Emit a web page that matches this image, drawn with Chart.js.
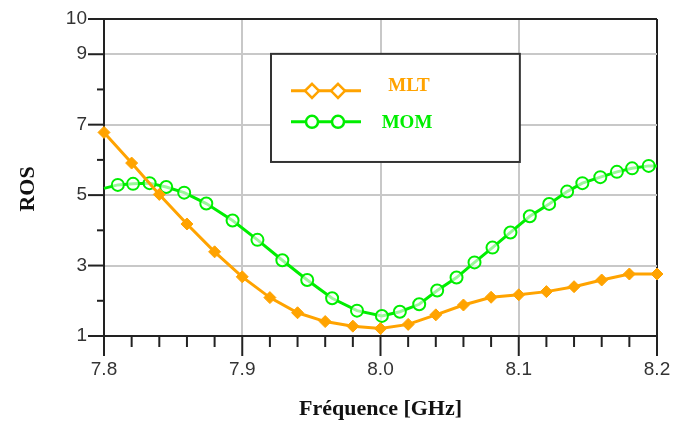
<!DOCTYPE html>
<html>
<head>
<meta charset="utf-8">
<script src="https://cdn.jsdelivr.net/npm/chart.js@4.4.1/dist/chart.umd.min.js"></script>
<style>
  body { margin: 0; background: #fff; }
  canvas { display: block; }
</style>
</head>
<body>
<canvas id="grafico" width="685" height="428"></canvas>
<script>
// MLT: un point tous les 0.02 GHz
const mltFreq = [7.80, 7.82, 7.84, 7.86, 7.88, 7.90, 7.92, 7.94, 7.96, 7.98, 8.00,
                 8.02, 8.04, 8.06, 8.08, 8.10, 8.12, 8.14, 8.16, 8.18, 8.20];
const mltRos = [6.78, 5.91, 5.02, 4.18, 3.39, 2.68, 2.09, 1.66, 1.41, 1.28, 1.21,
                1.33, 1.60, 1.88, 2.10, 2.17, 2.26, 2.40, 2.59, 2.76, 2.76];

// MOM: pas irrégulier
const momFreq = [7.800, 7.810, 7.821, 7.833, 7.845, 7.858, 7.874, 7.893, 7.911, 7.929,
                 7.947, 7.965, 7.983, 8.001, 8.014, 8.028, 8.041, 8.055, 8.068, 8.081,
                 8.094, 8.108, 8.122, 8.135, 8.146, 8.159, 8.171, 8.182, 8.194, 8.200];
const momRos = [5.19, 5.29, 5.32, 5.34, 5.23, 5.07, 4.76, 4.28, 3.73, 3.15,
                2.59, 2.07, 1.72, 1.57, 1.69, 1.90, 2.29, 2.66, 3.09, 3.51,
                3.94, 4.40, 4.75, 5.10, 5.34, 5.51, 5.66, 5.76, 5.83, 5.83];

// graduations
const xLabels = [7.8, 7.9, 8.0, 8.1, 8.2];
const xGrid = [7.9, 8.0, 8.1];
const yLabels = [1, 3, 5, 7, 9, 10];
const yGrid = [3, 5, 7, 9];

const ORANGE = "#ffa300";
const VERT = "#00ee00";

function proche(v, liste) {
  return liste.some(l => Math.abs(l - v) < 1e-6);
}

const mltData = mltFreq.map((f, i) => ({ x: f, y: mltRos[i] }));
const momData = momFreq.map((f, i) => ({ x: f, y: momRos[i] }));
const momRadius = momFreq.map((f, i) => (i === 0 || i === momFreq.length - 1) ? 0 : 6);

// petites graduations + titre vertical + légende
const decor = {
  id: "decor",
  afterDraw(chart) {
    const ctx = chart.ctx;
    const xs = chart.scales.x;
    const ys = chart.scales.y;
    const area = chart.chartArea;
    ctx.save();
    ctx.strokeStyle = "#222";
    ctx.lineWidth = 2;
    ys.ticks.forEach(t => {
      const y = ys.getPixelForValue(t.value);
      const len = proche(t.value, yLabels) ? 16 : 7;
      ctx.beginPath();
      ctx.moveTo(area.left - len, y);
      ctx.lineTo(area.left, y);
      ctx.stroke();
    });
    xs.ticks.forEach(t => {
      const x = xs.getPixelForValue(t.value);
      const len = proche(t.value, xLabels) ? 20 : 11;
      ctx.beginPath();
      ctx.moveTo(x, area.bottom);
      ctx.lineTo(x, area.bottom + len);
      ctx.stroke();
    });

    // titre axe Y
    ctx.font = "bold 22px 'Liberation Serif', 'Times New Roman', serif";
    ctx.fillStyle = "#111";
    ctx.textAlign = "center";
    ctx.textBaseline = "middle";
    ctx.translate(28, 189);
    ctx.rotate(-Math.PI / 2);
    ctx.fillText("ROS", 0, 0);
    ctx.restore();

    // légende
    ctx.save();
    const w = area.right - area.left;
    const h = area.bottom - area.top;
    const bx = area.left + 0.302 * w;
    const by = area.top + 0.110 * h;
    const bw = 0.450 * w;
    const bh = 0.341 * h;
    ctx.fillStyle = "#fff";
    ctx.fillRect(bx, by, bw, bh);
    ctx.strokeStyle = "#333";
    ctx.lineWidth = 2;
    ctx.strokeRect(bx, by, bw, bh);

    const items = [
      { label: "MLT", color: ORANGE, forme: "losange", dy: 37, tx: 138, ty: -5 },
      { label: "MOM", color: VERT, forme: "cercle", dy: 68, tx: 136, ty: 1 }
    ];
    items.forEach(it => {
      const y = by + it.dy;
      ctx.strokeStyle = it.color;
      ctx.lineWidth = 3;
      ctx.beginPath();
      ctx.moveTo(bx + 20, y);
      ctx.lineTo(bx + 90, y);
      ctx.stroke();
      [bx + 41, bx + 67].forEach(mx => {
        ctx.beginPath();
        if (it.forme === "losange") {
          ctx.moveTo(mx, y - 7);
          ctx.lineTo(mx + 7, y);
          ctx.lineTo(mx, y + 7);
          ctx.lineTo(mx - 7, y);
          ctx.closePath();
        } else {
          ctx.arc(mx, y, 6, 0, Math.PI * 2);
        }
        ctx.fillStyle = "#fff";
        ctx.fill();
        ctx.lineWidth = 2.5;
        ctx.stroke();
      });
      ctx.font = "bold 19px 'Liberation Serif', 'Times New Roman', serif";
      ctx.fillStyle = it.color;
      ctx.textAlign = "center";
      ctx.textBaseline = "middle";
      ctx.fillText(it.label, bx + it.tx, y + it.ty);
    });
    ctx.restore();
  }
};

const grafico = new Chart(document.getElementById("grafico"), {
  type: "line",
  data: {
    datasets: [
      {
        label: "MLT",
        data: mltData,
        borderColor: ORANGE,
        backgroundColor: ORANGE,
        borderWidth: 3,
        pointStyle: "rectRot",
        pointRadius: 6,
        pointBorderWidth: 1,
        tension: 0,
        clip: false
      },
      {
        label: "MOM",
        data: momData,
        borderColor: VERT,
        backgroundColor: "rgba(255,255,255,0.6)",
        borderWidth: 3,
        pointStyle: "circle",
        pointRadius: momRadius,
        pointBorderWidth: 2,
        tension: 0,
        clip: false
      }
    ]
  },
  options: {
    responsive: false,
    animation: false,
    layout: { padding: { top: 19, right: 28, left: 0, bottom: 0 } },
    plugins: {
      legend: { display: false },
      tooltip: { enabled: false }
    },
    scales: {
      x: {
        type: "linear",
        min: 7.8,
        max: 8.2,
        afterBuildTicks: scale => {
          const t = [];
          for (let i = 0; i <= 20; i++) t.push({ value: +(7.8 + i * 0.02).toFixed(2) });
          scale.ticks = t;
        },
        afterFit: scale => {
          scale.height = 92;
          scale.paddingLeft = 0;
          scale.paddingRight = 0;
        },
        ticks: {
          autoSkip: false,
          maxRotation: 0,
          padding: 22,
          color: "#333",
          font: { family: "'Liberation Sans', Arial, sans-serif", size: 19 },
          callback: v => proche(v, xLabels) ? v.toFixed(1) : ""
        },
        grid: {
          drawTicks: false,
          color: c => proche(c.tick.value, xGrid) ? "#c8c8c8" : (proche(c.tick.value, [8.2]) ? "#222" : "rgba(0,0,0,0)"),
          lineWidth: 2
        },
        border: { color: "#222", width: 2 },
        title: {
          display: true,
          text: "Fréquence [GHz]",
          color: "#111",
          font: { family: "'Liberation Serif', 'Times New Roman', serif", size: 22, weight: "bold" },
          padding: { top: 0, bottom: 5 }
        }
      },
      y: {
        min: 1,
        max: 10,
        afterBuildTicks: scale => {
          const t = [];
          for (let v = 1; v <= 10; v++) t.push({ value: v });
          scale.ticks = t;
        },
        afterFit: scale => {
          scale.width = 104;
          scale.paddingTop = 0;
          scale.paddingBottom = 0;
        },
        ticks: {
          autoSkip: false,
          padding: 17,
          color: "#333",
          font: { family: "'Liberation Sans', Arial, sans-serif", size: 19 },
          callback: v => proche(v, yLabels) ? String(v) : ""
        },
        grid: {
          drawTicks: false,
          color: c => proche(c.tick.value, yGrid) ? "#c8c8c8" : (proche(c.tick.value, [10]) ? "#222" : "rgba(0,0,0,0)"),
          lineWidth: 2
        },
        border: { color: "#222", width: 2 }
      }
    }
  },
  plugins: [decor]
});
</script>
</body>
</html>
